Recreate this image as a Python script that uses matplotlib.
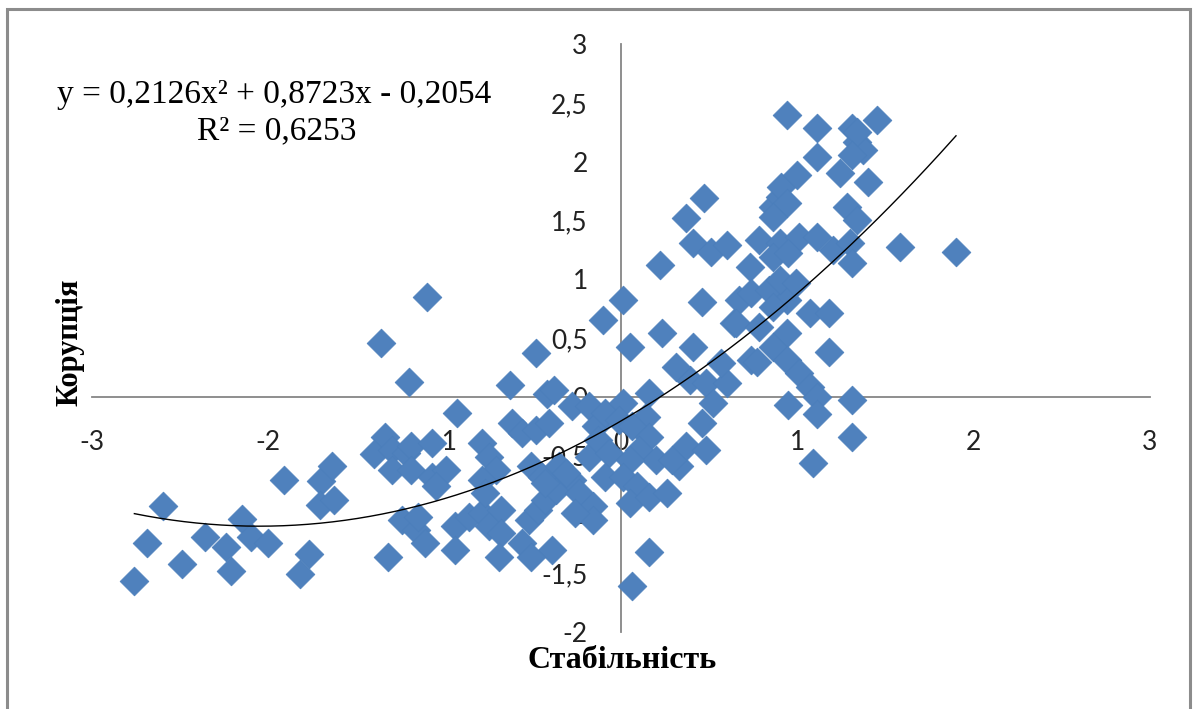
import matplotlib
matplotlib.use('Agg')
import matplotlib.pyplot as plt
from matplotlib.ticker import FuncFormatter, MultipleLocator
from matplotlib.patches import Rectangle
import numpy as np

# Стабільність (x) та Корупція (y)
stab = [-2.76, -2.69, -2.60, -2.49, -2.36, -2.24, -2.15, -2.10, -2.21, -2.00,
        -1.91, -1.77, -1.82, -1.70, -1.64, -1.71, -1.63, -1.36, -1.20, -1.10,
        -0.93, -1.34, -1.40, -1.30, -1.22, -1.19, -1.07, -1.30, -1.19, -1.07,
        -0.99, -1.05, -1.32, -1.24, -1.16, -1.11, -1.15, -0.94, -0.94, -0.86,
        -0.79, -0.75, -0.68, -0.68, -0.69, -0.56, -0.52, -0.47, -0.43, -0.37,
        -0.39, -0.51, -0.79, -0.75, -0.71, -0.79, -0.77, -0.62, -0.56, -0.48,
        -0.41, -0.51, -0.45, -0.63, -0.48, -0.42, -0.38, -0.28, -0.18, -0.14,
        -0.09, 0.01, -0.01, -0.35, -0.28, -0.24, -0.16, -0.16, -0.18, -0.13,
        -0.07, -0.43, -0.31, -0.26, -0.10, 0.01, 0.05, 0.16, 0.14, 0.06,
        0.16, 0.10, 0.20, 0.05, -0.09, 0.01, 0.09, 0.05, 0.16, 0.26,
        0.33, 0.37, 0.48, 0.46, 0.39, 0.48, 0.60, 0.52, 0.29, 0.16,
        0.06, 0.23, 0.41, 0.31, 0.57, 0.64, 0.74, 0.22, 0.37, 0.47,
        0.41, 0.51, 0.60, 0.46, 0.73, 0.78, 0.86, 0.90, 0.91, 1.00,
        0.94, 0.86, 0.94, 1.11, 1.31, 1.45, 1.34, 1.37, 1.34, 1.11,
        1.24, 1.40, 1.28, 1.34, 1.58, 1.90, 0.90, 1.01, 1.11, 0.86,
        0.95, 1.20, 1.30, 1.31, 0.67, 0.74, 0.84, 0.94, 0.65, 0.78,
        0.94, 1.07, 1.18, 1.18, 0.77, 0.86, 0.94, 1.01, 1.07, 1.11,
        0.95, 1.11, 1.31, 1.31, 1.09, 0.90, 0.99, 0.86, 1.31]
korup = [-1.57, -1.24, -0.93, -1.42, -1.19, -1.28, -1.04, -1.19, -1.48, -1.24,
         -0.71, -1.34, -1.51, -0.72, -0.59, -0.92, -0.88, 0.46, 0.13, 0.85,
         -0.14, -0.34, -0.49, -0.45, -0.48, -0.42, -0.39, -0.62, -0.62, -0.68,
         -0.62, -0.76, -1.36, -1.05, -1.13, -1.24, -1.02, -1.10, -1.30, -1.02,
         -0.99, -1.10, -0.96, -1.16, -1.36, -1.24, -1.05, -0.96, -0.88, -0.79,
         -1.30, -1.36, -0.39, -0.51, -0.62, -0.71, -0.82, -0.22, -0.31, -0.28,
         -0.22, -0.59, -0.68, 0.10, 0.37, 0.02, 0.06, -0.08, -0.08, -0.25,
         -0.14, -0.05, -0.20, -0.59, -0.71, -0.82, -0.93, -1.05, -0.51, -0.37,
         -0.48, -0.73, -0.65, -0.99, 0.65, 0.82, 0.42, 0.03, -0.17, -0.25,
         -0.34, -0.45, -0.54, -0.54, -0.68, -0.68, -0.76, -0.90, -0.85, -0.82,
         -0.59, -0.42, -0.45, -0.22, 0.14, 0.12, 0.12, -0.05, -0.54, -1.32,
         -1.61, 0.54, 0.42, 0.25, 0.29, 0.63, 0.31, 1.12, 1.52, 1.69,
         1.31, 1.23, 1.29, 0.81, 1.10, 1.33, 1.61, 1.70, 1.78, 1.89,
         1.65, 1.53, 2.40, 2.29, 2.29, 2.35, 2.17, 2.10, 2.25, 2.04,
         1.90, 1.83, 1.61, 1.50, 1.27, 1.23, 1.31, 1.36, 1.36, 1.19,
         1.22, 1.25, 1.31, 1.14, 0.82, 0.88, 0.91, 0.82, 0.63, 0.59,
         0.54, 0.71, 0.71, 0.38, 0.30, 0.42, 0.31, 0.20, 0.08, 0.00,
         -0.07, -0.15, -0.03, -0.34, -0.56, 0.99, 0.97, 0.76, 2.06]

# поліноміальний тренд 2-го степеня
coef = [0.2126, 0.8723, -0.2054]
r2 = 0.6253

blue = '#4F81BD'
axis_gray = '#868686'

fig = plt.figure(figsize=(11.94, 7.09), dpi=100)
ax = fig.add_axes([0.0771, 0.1086, 0.886, 0.8293])

ax.scatter(stab, korup, marker='D', s=215, color=blue, edgecolors='#4A7EBB',
           linewidths=0.5, zorder=3)

xt = np.linspace(min(stab), max(stab), 200)
ax.plot(xt, np.polyval(coef, xt), color='black', lw=1.0, zorder=4)

ax.set_xlim(-3, 3)
ax.set_ylim(-2, 3)
ax.xaxis.set_major_locator(MultipleLocator(1))
ax.yaxis.set_major_locator(MultipleLocator(0.5))
fmt = FuncFormatter(lambda v, p: '{:g}'.format(round(v, 2)).replace('.', ','))
ax.xaxis.set_major_formatter(fmt)
ax.yaxis.set_major_formatter(fmt)

for s in ['top', 'right']:
    ax.spines[s].set_visible(False)
ax.spines['left'].set_position(('data', 0))
ax.spines['bottom'].set_position(('data', 0))
for s in ['left', 'bottom']:
    ax.spines[s].set_color(axis_gray)
    ax.spines[s].set_linewidth(1.3)
ax.tick_params(length=0, labelsize=19, pad=24)
for lab in ax.get_xticklabels() + ax.get_yticklabels():
    lab.set_family('Lato')
    lab.set_color('#222222')

fig.text(0.0586, 0.517, 'Корупція', rotation=90, ha='center', va='center',
         family='Liberation Serif', fontsize=22, fontweight='bold')
fig.text(0.521, 0.069, 'Стабільність', ha='center', va='center',
         family='Liberation Serif', fontsize=23, fontweight='bold')

eq = 'y = {}x² + {}x - {}'.format(str(coef[0]).replace('.', ','),
                                  str(coef[1]).replace('.', ','),
                                  str(abs(coef[2])).replace('.', ','))
fig.text(0.2295, 0.866, eq, ha='center', va='center',
         family='Liberation Serif', fontsize=24)
fig.text(0.2315, 0.815, 'R² = ' + str(r2).replace('.', ','), ha='center',
         va='center', family='Liberation Serif', fontsize=24)

# рамка навколо діаграми
fig.patches.append(Rectangle((0.006, -0.05), 0.9906, 1.037,
                             transform=fig.transFigure, fill=False,
                             edgecolor='#8c8c8c', lw=2.2))

fig.savefig('out.png', dpi=100)
